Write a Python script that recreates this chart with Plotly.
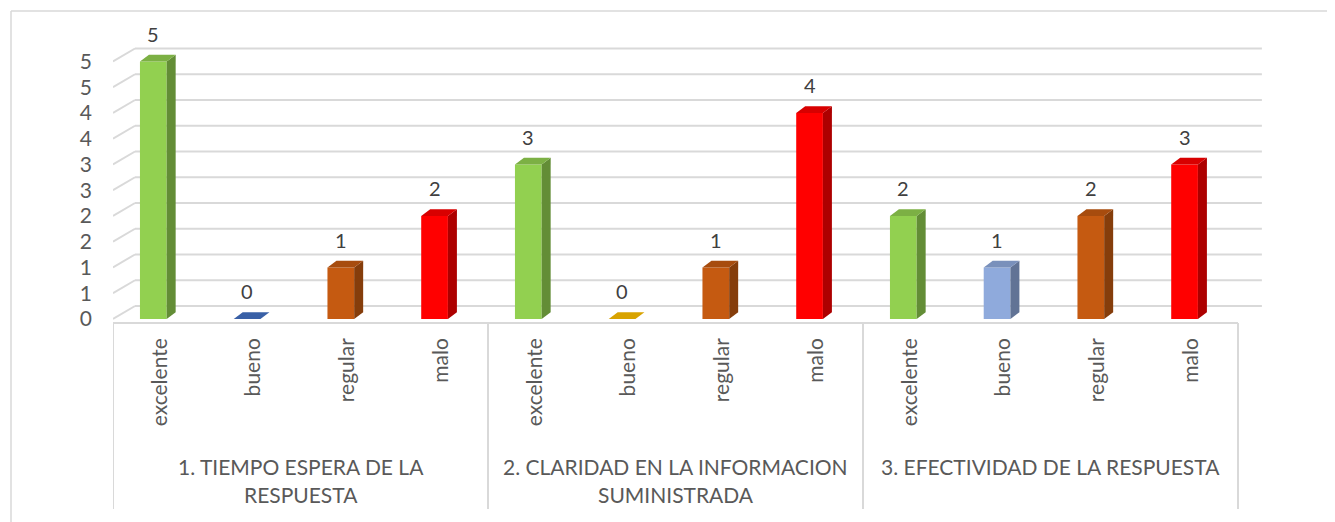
import plotly.graph_objects as go

# ---------------- data ----------------
groups = ["1. TIEMPO ESPERA DE LA<br>RESPUESTA",
          "2. CLARIDAD EN LA INFORMACION<br>SUMINISTRADA",
          "3. EFECTIVIDAD DE LA RESPUESTA"]
categories = ["excelente", "bueno", "regular", "malo"]
values_g1 = [5, 0, 1, 2]
values_g2 = [3, 0, 1, 4]
values_g3 = [2, 1, 2, 3]
ytick_vals = [0, 0.5, 1, 1.5, 2, 2.5, 3, 3.5, 4, 4.5, 5]
ytick_text = ["0", "1", "1", "2", "2", "3", "3", "4", "4", "5", "5"]

# ---------------- style ----------------
colors_front = ["#92D050", "#4472C4", "#C55A11", "#FF0000",
                "#92D050", "#FFC000", "#C55A11", "#FF0000",
                "#92D050", "#8FAADC", "#C55A11", "#FF0000"]
FONT = "Lato"
TXT = "#595959"
GRID = "#D9D9D9"

OFF = 8                       # page body margin
W, H = 1335 - OFF, 522 - OFF
ML = 113 - OFF
MT = 20 - OFF
plot_right_screen, plot_bottom_screen = 1270, 325
MR = W - (plot_right_screen - OFF)
MB = H - (plot_bottom_screen - OFF)
PX_X = 93.75          # px per category
PX_Y = 51.5           # px per unit
Y0_SCREEN = 319       # screen pixel of y=0
plot_w = W - ML - MR
plot_h = H - MT - MB
x_range = [-0.5, -0.5 + plot_w / PX_X]
y_range = [-(plot_bottom_screen - Y0_SCREEN) / PX_Y, (Y0_SCREEN - (MT + OFF)) / PX_Y]

bar_w = 26.7 / PX_X
shift = -0.07
dx, dy = 9 / PX_X, 6.7 / PX_Y          # 3D depth of bars
dxb, dyb = 22 / PX_X, 13 / PX_Y        # back wall offset


def shade(hexc, f):
    h = hexc.lstrip("#")
    r, g, b = (int(h[i:i + 2], 16) for i in (0, 2, 4))
    return "#%02X%02X%02X" % (int(r * f), int(g * f), int(b * f))


def ppx(px):   # screen pixel -> paper x
    return (px - OFF - ML) / plot_w


def ppy(py):   # screen pixel -> paper y
    return (plot_bottom_screen - py) / plot_h


values = values_g1 + values_g2 + values_g3
ncat = len(values)
xpos = list(range(ncat))
xlabels = categories * len(groups)

fig = go.Figure()

# front faces
fig.add_trace(go.Bar(
    x=xpos, y=values, width=bar_w, offset=-bar_w / 2 + shift,
    marker=dict(color=colors_front, line=dict(width=0)),
    hoverinfo="skip", showlegend=False))

# side and top faces
for i, v in enumerate(values):
    c = i + shift
    xr = c + bar_w / 2
    xl = c - bar_w / 2
    if v > 0:
        fig.add_trace(go.Scatter(
            x=[xr, xr + dx, xr + dx, xr, xr], y=[0, dy, v + dy, v, 0],
            mode="lines", fill="toself", line=dict(width=0),
            fillcolor=shade(colors_front[i], 0.68),
            hoverinfo="skip", showlegend=False))
    fig.add_trace(go.Scatter(
        x=[xl, xl + dx, xr + dx, xr, xl], y=[v, v + dy, v + dy, v, v],
        mode="lines", fill="toself", line=dict(width=0),
        fillcolor=shade(colors_front[i], 0.85),
        hoverinfo="skip", showlegend=False))

shapes = []
# back wall gridlines + slanted connectors
for t in ytick_vals:
    shapes.append(dict(type="line", xref="x", yref="y", layer="below",
                       x0=-0.5 + dxb, x1=ncat - 0.5 + dxb + 0.02,
                       y0=t + dyb, y1=t + dyb,
                       line=dict(color=GRID, width=2)))
    shapes.append(dict(type="line", xref="x", yref="y", layer="below",
                       x0=-0.5, x1=-0.5 + dxb, y0=t, y1=t + dyb,
                       line=dict(color=GRID, width=2)))
# front floor line
shapes.append(dict(type="line", xref="x", yref="y", layer="below",
                   x0=-0.5, x1=ncat - 0.5, y0=-4 / PX_Y, y1=-4 / PX_Y,
                   line=dict(color=GRID, width=2)))
# group separators
for k in range(len(groups) + 1):
    xs = -0.5 + 4 * k
    shapes.append(dict(type="line", xref="x", yref="paper",
                       x0=xs, x1=xs, y0=ppy(323), y1=ppy(509),
                       line=dict(color=GRID, width=2)))
# chart border (top/left visible)
shapes.append(dict(type="line", xref="paper", yref="paper",
                   x0=ppx(11), x1=ppx(1345), y0=ppy(11), y1=ppy(11),
                   line=dict(color=GRID, width=1.5)))
shapes.append(dict(type="line", xref="paper", yref="paper",
                   x0=ppx(11), x1=ppx(11), y0=ppy(11), y1=ppy(540),
                   line=dict(color=GRID, width=1.5)))

annotations = []
# data labels
for i, v in enumerate(values):
    annotations.append(dict(x=i + shift, y=v, xref="x", yref="y",
                            text=str(v), showarrow=False, yanchor="middle",
                            yshift=28, font=dict(family=FONT, size=20, color="#404040")))
# group labels
for g, name in enumerate(groups):
    lines = name.split("<br>")
    for j, ln in enumerate(lines):
        annotations.append(dict(x=1.5 + 4 * g, y=ppy(466 + 28 * j), xref="x", yref="paper",
                                text=ln, showarrow=False, yanchor="middle",
                                font=dict(family=FONT, size=21, color=TXT)))

fig.update_layout(
    width=W, height=H,
    margin=dict(l=ML, r=MR, t=MT, b=MB),
    paper_bgcolor="white", plot_bgcolor="white",
    showlegend=False,
    shapes=shapes, annotations=annotations,
    xaxis=dict(range=x_range, tickvals=xpos, ticktext=xlabels, tickangle=-90,
               showgrid=False, zeroline=False, showline=False, ticks="",
               ticklabelstandoff=8,
               tickfont=dict(family=FONT, size=21, color=TXT)),
    yaxis=dict(range=y_range, tickvals=ytick_vals, ticktext=ytick_text,
               showgrid=False, zeroline=False, showline=False, ticks="",
               ticklabelstandoff=20,
               tickfont=dict(family=FONT, size=21, color=TXT)),
)

fig.write_html("out.html")
